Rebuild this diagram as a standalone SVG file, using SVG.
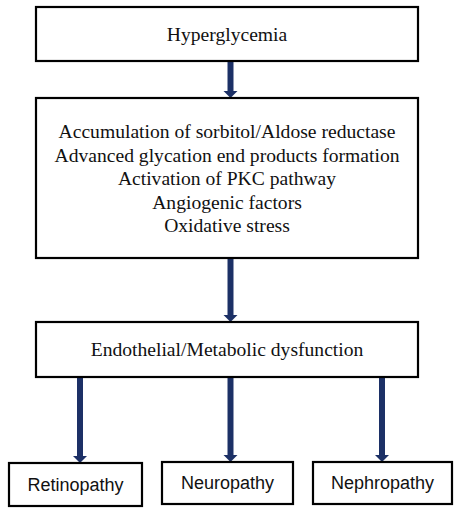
<svg xmlns="http://www.w3.org/2000/svg" width="460" height="514" viewBox="0 0 460 514">
<style>
.box{fill:#fff;stroke:#000;stroke-width:2.2}
.serif{font-family:"Liberation Serif","Times New Roman",serif;font-size:19.6px;fill:#111;text-anchor:middle}
.sans{font-family:"Liberation Sans",Arial,sans-serif;font-size:18px;fill:#111;text-anchor:middle}
.arr{fill:none;stroke:#1c3066;stroke-width:6}
.head{fill:#1c3066}
</style>
<rect width="460" height="514" fill="#fff"/>
<g id="connectors">
<line class="arr" x1="230.5" y1="61" x2="230.5" y2="91"/>
<path class="head" d="M223.5,91 L237.5,91 L230.5,98 Z"/>
<line class="arr" x1="230.5" y1="258" x2="230.5" y2="315"/>
<path class="head" d="M223.5,315 L237.5,315 L230.5,322 Z"/>
<line class="arr" x1="80" y1="377" x2="80" y2="456"/>
<path class="head" d="M73,456 L87,456 L80,463 Z"/>
<line class="arr" x1="230.5" y1="377" x2="230.5" y2="455"/>
<path class="head" d="M223.5,455 L237.5,455 L230.5,462 Z"/>
<line class="arr" x1="382" y1="377" x2="382" y2="455"/>
<path class="head" d="M375,455 L389,455 L382,462 Z"/>
</g>
<g id="hyperglycemia">
<rect class="box" x="36" y="7" width="382" height="54"/>
<text class="serif" x="227" y="41">Hyperglycemia</text>
</g>
<g id="mechanisms">
<rect class="box" x="36" y="98" width="382" height="160"/>
<text class="serif" x="227" y="138">Accumulation of sorbitol/Aldose reductase</text>
<text class="serif" x="227" y="162">Advanced glycation end products formation</text>
<text class="serif" x="227" y="185">Activation of PKC pathway</text>
<text class="serif" x="227" y="209">Angiogenic factors</text>
<text class="serif" x="227" y="232">Oxidative stress</text>
</g>
<g id="dysfunction">
<rect class="box" x="36" y="322" width="382" height="55"/>
<text class="serif" x="227" y="356">Endothelial/Metabolic dysfunction</text>
</g>
<g id="retinopathy">
<rect class="box" x="9" y="463" width="133" height="43"/>
<text class="sans" x="75.5" y="491">Retinopathy</text>
</g>
<g id="neuropathy">
<rect class="box" x="162" y="462" width="131" height="42"/>
<text class="sans" x="227.5" y="489">Neuropathy</text>
</g>
<g id="nephropathy">
<rect class="box" x="313" y="462" width="139" height="42"/>
<text class="sans" x="382.5" y="489">Nephropathy</text>
</g>
</svg>
